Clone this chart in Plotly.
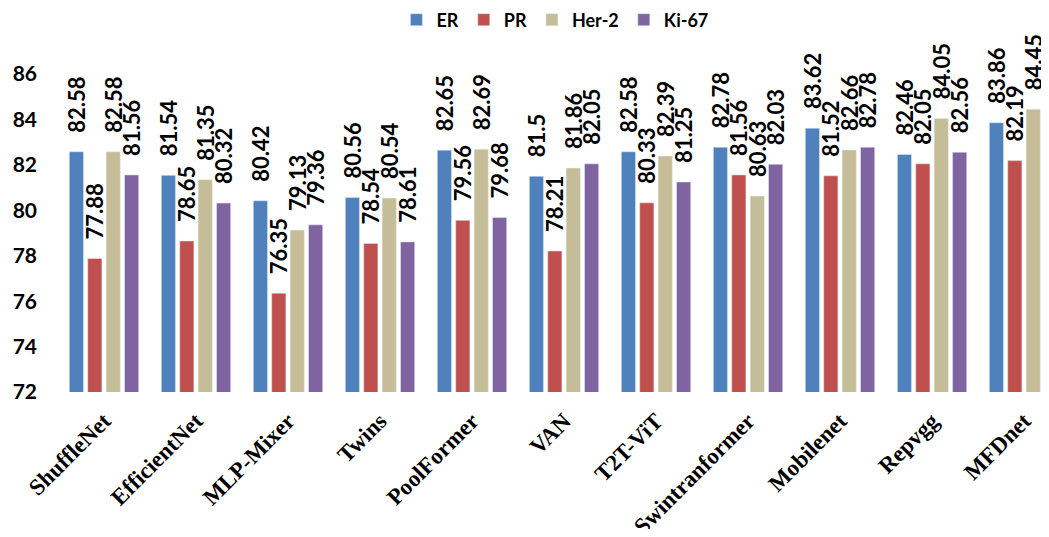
import plotly.graph_objects as go

categories = ["ShuffleNet", "EfficientNet", "MLP-Mixer", "Twins", "PoolFormer", "VAN",
              "T2T-ViT", "Swintranformer", "Mobilenet", "Repvgg", "MFDnet"]
er = [82.58, 81.54, 80.42, 80.56, 82.65, 81.5, 82.58, 82.78, 83.62, 82.46, 83.86]
pr = [77.88, 78.65, 76.35, 78.54, 79.56, 78.21, 80.33, 81.56, 81.52, 82.05, 82.19]
her2 = [82.58, 81.35, 79.13, 80.54, 82.69, 81.86, 82.39, 80.63, 82.66, 84.05, 84.45]
ki67 = [81.56, 80.32, 79.36, 78.61, 79.68, 82.05, 81.25, 82.03, 82.78, 82.56, 83.56]

series = [("ER", er, "#4F81BD"), ("PR", pr, "#C0504D"),
          ("Her-2", her2, "#C4BD97"), ("Ki-67", ki67, "#8064A2")]

PAD = "\u00a0\u00a0\u00a0"

fig = go.Figure()
for name, vals, color in series:
    fig.add_trace(go.Bar(
        x=list(range(len(categories))), y=vals, name=name,
        marker=dict(color=color),
        text=[PAD + f"{v:g}" for v in vals], textposition="outside", textangle=-90,
        constraintext="none",
        textfont=dict(family="Lato", size=22, color="black", weight="bold"),
        cliponaxis=False,
    ))

fig.update_layout(
    width=1060, height=521,
    margin=dict(l=50, r=0, t=20, b=137, autoexpand=False),
    paper_bgcolor="white", plot_bgcolor="white",
    barmode="group", bargap=0.2, bargroupgap=0.23,
    uniformtext=dict(mode=False),
    legend=dict(orientation="h", x=0.492, xanchor="center", yref="container", y=0.977, yanchor="middle",
                font=dict(family="Lato", size=18, color="black", weight="bold"),
                itemwidth=30, traceorder="normal"),
    showlegend=True,
)
fig.update_xaxes(range=[-0.5, 10.478], tickvals=list(range(len(categories))), ticktext=categories,
                 tickangle=-45, showline=False, showgrid=False, ticks="", automargin=False,
                 ticklabelstandoff=10,
                 tickfont=dict(family="Liberation Serif", size=23, color="black", weight="bold"))
fig.update_yaxes(range=[72, 88.03], tickvals=[72, 74, 76, 78, 80, 82, 84, 86], showgrid=False,
                 zeroline=False, showline=False, ticks="", automargin=False, ticklabelstandoff=20,
                 tickfont=dict(family="Lato", size=21, color="black", weight="bold"))

fig.write_html("out.html")
